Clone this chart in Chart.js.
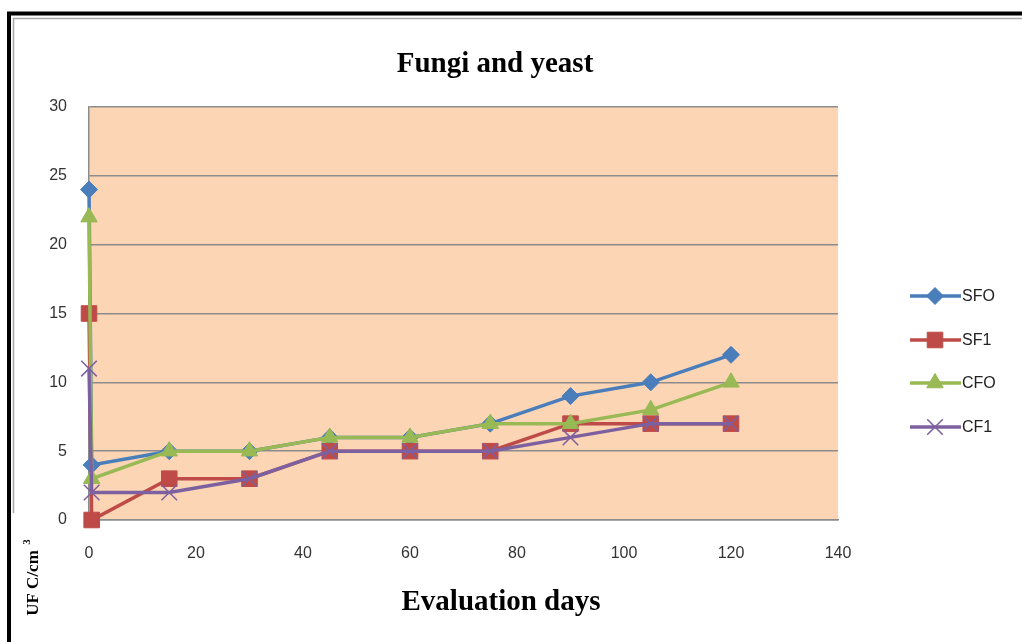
<!DOCTYPE html>
<html>
<head>
<meta charset="utf-8">
<script src="https://cdn.jsdelivr.net/npm/chart.js@4"></script>
<style>
  html, body { margin: 0; padding: 0; background: #fff; }
  #wrap { width: 1022px; height: 642px; }
</style>
</head>
<body>
<div id="wrap"><canvas id="fungiChart" width="1022" height="642"></canvas></div>
<script>
// 评估天数（第一天有两个读数）
const days = [0, 0.5, 15, 30, 45, 60, 75, 90, 105, 120];

const seriesNames = ['SFO', 'SF1', 'CFO', 'CF1'];
const sfoValues = [24, 4, 5, 5, 6, 6, 7, 9, 10, 12];
const sf1Values = [15, 0, 3, 3, 5, 5, 5, 7, 7, 7];
const cfoValues = [22, 3, 5, 5, 6, 6, 7, 7, 8, 10];
const cf1Values = [11, 2, 2, 3, 5, 5, 5, 6, 7, 7];

const xTicks = [0, 20, 40, 60, 80, 100, 120, 140];
const yTicks = [0, 5, 10, 15, 20, 25, 30];

const colors = ['#4a7ebb', '#be4b48', '#98b954', '#7d60a0'];
const markers = ['rectRot', 'rect', 'triangle', 'crossRot'];
const markerSizes = [8.5, 11, 9.5, 11];

function toPoints(values) {
    return values.map((v, i) => ({ x: days[i], y: v }));
}

const allValues = [sfoValues, sf1Values, cfoValues, cf1Values];
// 后面的系列画在上层（与原图一致）
const datasets = allValues.map((vals, i) => ({
    label: seriesNames[i],
    data: toPoints(vals),
    order: 3 - i,
    clip: false,
    borderColor: colors[i],
    backgroundColor: colors[i],
    borderWidth: 3.5,
    pointStyle: markers[i],
    pointRadius: markerSizes[i],
    pointBorderWidth: i === 3 ? 1.5 : 1,
    pointBorderColor: colors[i],
    pointBackgroundColor: colors[i],
    tension: 0
}));

// 外框、背景、标题和图例
const decorPlugin = {
    id: 'decor',
    beforeDraw(chart) {
        const { ctx, chartArea } = chart;
        ctx.save();
        ctx.fillStyle = '#ffffff';
        ctx.fillRect(0, 0, chart.width, chart.height);
        // 图表外框
        ctx.strokeStyle = '#000';
        ctx.lineWidth = 4;
        ctx.beginPath();
        ctx.moveTo(9, chart.height);
        ctx.lineTo(9, 13.5);
        ctx.lineTo(chart.width, 13.5);
        ctx.stroke();
        ctx.strokeStyle = '#a8a8a8';
        ctx.lineWidth = 1.5;
        ctx.beginPath();
        ctx.moveTo(13.5, 513);
        ctx.lineTo(13.5, 18.5);
        ctx.lineTo(chart.width, 18.5);
        ctx.stroke();
        // 绘图区背景
        ctx.fillStyle = '#fcd5b4';
        ctx.fillRect(chartArea.left, chartArea.top,
            chartArea.right - chartArea.left, chartArea.bottom - chartArea.top);
        ctx.restore();
    },
    afterDraw(chart) {
        const { ctx } = chart;
        ctx.save();
        ctx.fillStyle = '#000';
        ctx.textAlign = 'center';
        ctx.textBaseline = 'middle';
        ctx.font = 'bold 29px "Liberation Serif", "DejaVu Serif", serif';
        ctx.fillText('Fungi and yeast', 495, 65);
        ctx.fillText('Evaluation days', 501, 603);
        // Y轴标题（旋转）
        ctx.translate(34, 578);
        ctx.rotate(-Math.PI / 2);
        ctx.font = 'bold 17px "Liberation Serif", serif';
        ctx.fillText('UF C/cm', -5, 0);
        ctx.font = 'bold 11px "Liberation Serif", serif';
        ctx.fillText('3', 36, -7);
        ctx.restore();

        // 图例
        ctx.save();
        const legendY = [296, 340, 383, 427];
        chart.data.datasets.forEach((ds, i) => {
            const y = legendY[i];
            ctx.strokeStyle = ds.borderColor;
            ctx.lineWidth = 3.5;
            ctx.beginPath();
            ctx.moveTo(910, y);
            ctx.lineTo(961, y);
            ctx.stroke();
            ctx.fillStyle = ds.borderColor;
            ctx.strokeStyle = ds.borderColor;
            ctx.lineWidth = ds.pointBorderWidth;
            Chart.helpers.drawPoint(ctx, {
                pointStyle: ds.pointStyle,
                radius: ds.pointRadius,
                borderWidth: ds.pointBorderWidth,
                rotation: 0
            }, 935, y);
            ctx.fillStyle = '#222';
            ctx.font = '16px "Liberation Sans", Arial, sans-serif';
            ctx.textAlign = 'left';
            ctx.textBaseline = 'middle';
            ctx.fillText(ds.label, 962, y + 1);
        });
        ctx.restore();
    }
};

const ctx = document.getElementById('fungiChart').getContext('2d');
const chartInstance = new Chart(ctx, {
    type: 'line',
    data: { datasets: datasets },
    options: {
        responsive: false,
        animation: false,
        layout: { padding: { left: 0, top: 107, right: 184, bottom: 0 } },
        plugins: {
            legend: { display: false },
            title: { display: false },
            tooltip: { enabled: false }
        },
        scales: {
            x: {
                type: 'linear',
                min: 0,
                max: 140,
                afterFit: (s) => { s.height = 122; },
                afterBuildTicks: (s) => { s.ticks = xTicks.map(v => ({ value: v })); },
                grid: { display: false, drawTicks: false },
                border: { display: true, color: '#8c8c8c', width: 1.5 },
                ticks: {
                    padding: 24,
                    color: '#333',
                    font: { size: 16, family: '"Liberation Sans", Arial, sans-serif' },
                    maxRotation: 0
                }
            },
            y: {
                min: 0,
                max: 30,
                afterFit: (s) => { s.width = 89; },
                afterBuildTicks: (s) => { s.ticks = yTicks.map(v => ({ value: v })); },
                grid: { color: '#8c8c8c', lineWidth: 1.5, drawTicks: false },
                border: { display: true, color: '#8c8c8c', width: 1.5 },
                ticks: {
                    padding: 22,
                    color: '#333',
                    font: { size: 16, family: '"Liberation Sans", Arial, sans-serif' }
                }
            }
        }
    },
    plugins: [decorPlugin]
});
</script>
</body>
</html>
